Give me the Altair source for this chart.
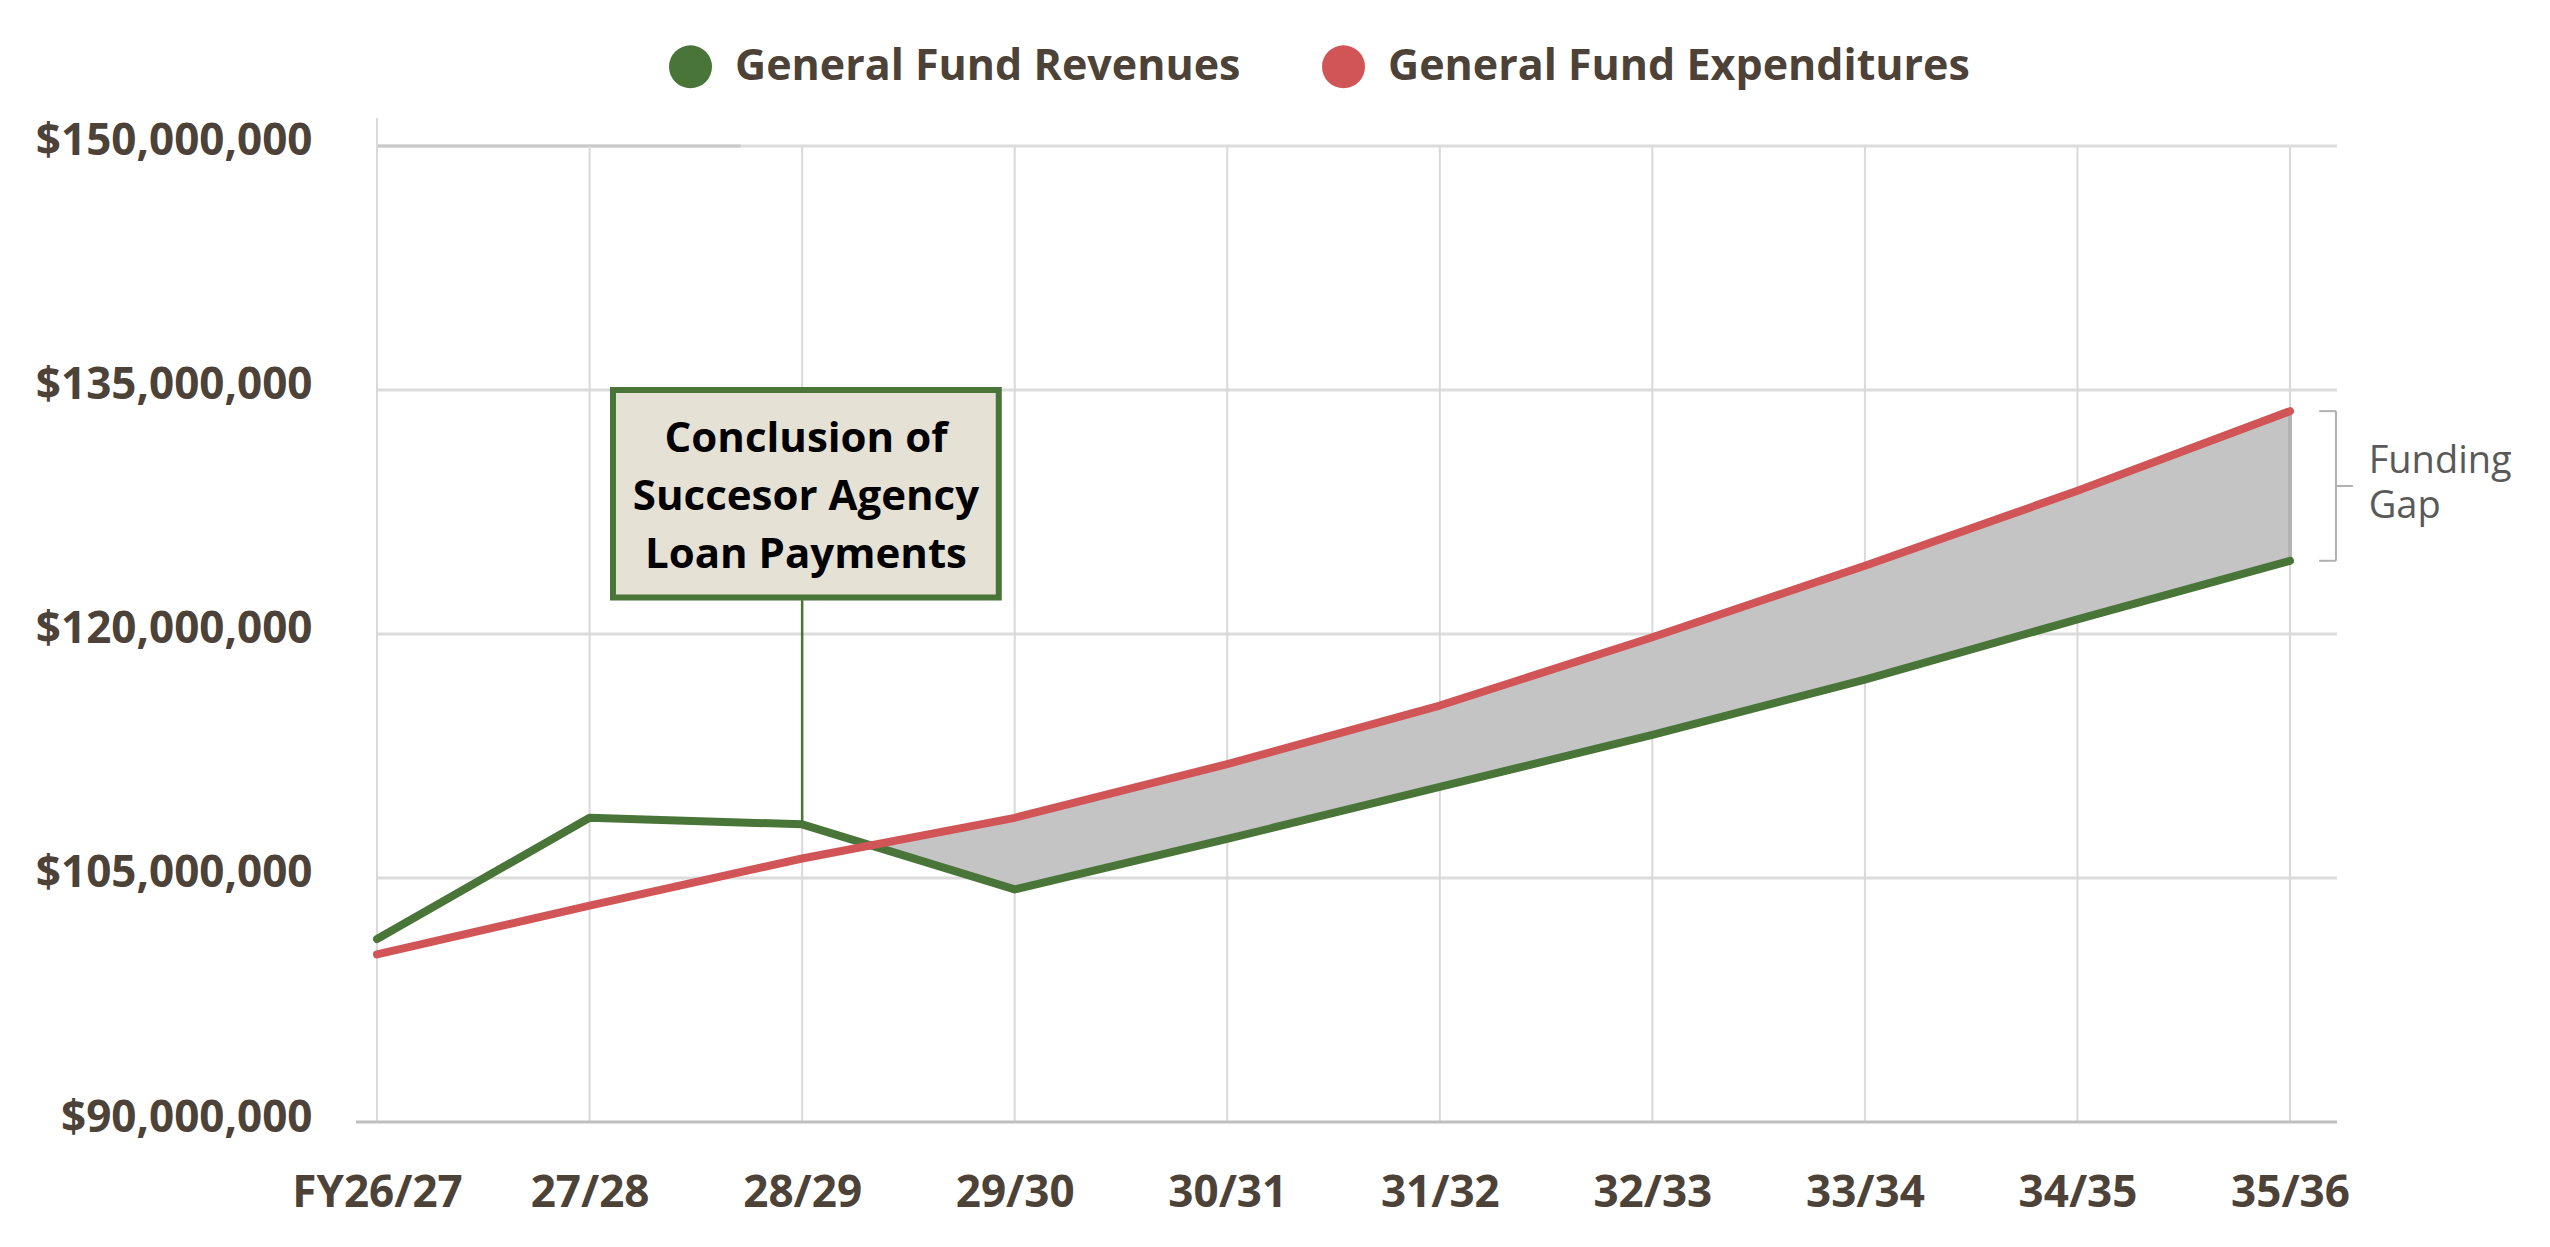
import altair as alt
import pandas as pd

years = ["FY26/27", "27/28", "28/29", "29/30", "30/31", "31/32", "32/33", "33/34", "34/35", "35/36"]
revenues = [101.25, 108.7, 108.3, 104.3, 107.4, 110.6, 113.8, 117.2, 120.9, 124.5]
expenditures = [100.3, 103.3, 106.2, 108.7, 112.0, 115.6, 119.8, 124.2, 128.8, 133.7]
series_names = ["General Fund Revenues", "General Fund Expenditures"]
y_ticks = [90, 105, 120, 135, 150]
note_lines = ["Conclusion of", "Succesor Agency", "Loan Payments"]
gap_lines = ["Funding", "Gap"]

M = 1_000_000
GREEN = "#4a7539"
RED = "#d15557"
TEXT = "#4d4237"
FONT = "Open Sans"

X_MIN, X_MAX = -0.099, 9.221
Y_MIN, Y_MAX = 90 * M, 151.72 * M
xs = alt.Scale(domain=[X_MIN, X_MAX], nice=False, zero=False)
ys = alt.Scale(domain=[Y_MIN, Y_MAX], nice=False, zero=False)

n = len(years)
idx = list(range(n))

label_expr = "[" + ",".join("'%s'" % y for y in years) + "][datum.value]"
XA = alt.Axis(values=idx, labelExpr=label_expr, grid=False, domain=False, ticks=False,
              labelFont=FONT, labelFontSize=44, labelFontWeight="bold", labelColor=TEXT,
              labelPadding=49, labelLimit=1000, title=None)
YA = alt.Axis(values=[t * M for t in y_ticks], format="$,.0f", grid=False, domain=False,
              ticks=False, labelFont=FONT, labelFontSize=44, labelFontWeight="bold",
              labelColor=TEXT, labelPadding=44, labelOffset=-4, labelLimit=1000, title=None)


def X(f):
    return alt.X(f, scale=xs, axis=XA, title=None)


def Y(f):
    return alt.Y(f, scale=ys, axis=YA, title=None)


long = pd.DataFrame(
    [{"i": i, "series": series_names[0], "v": revenues[i] * M} for i in idx]
    + [{"i": i, "series": series_names[1], "v": expenditures[i] * M} for i in idx]
)
long["line_series"] = long["series"]

# gap area (where expenditures exceed revenues), starting at the crossing
rows = []
for i in range(n - 1):
    d0 = revenues[i] - expenditures[i]
    d1 = revenues[i + 1] - expenditures[i + 1]
    if d0 > 0 and d1 <= 0:
        t = d0 / (d0 - d1)
        cv = expenditures[i] + t * (expenditures[i + 1] - expenditures[i])
        rows.append({"i": i + t, "lo": cv * M, "hi": cv * M})
for i in idx:
    if expenditures[i] > revenues[i]:
        rows.append({"i": i, "lo": revenues[i] * M, "hi": expenditures[i] * M})
gap = pd.DataFrame(rows)

# horizontal gridlines
hgrid = pd.DataFrame({"v": [t * M for t in y_ticks[1:]], "x0": 0, "x1": X_MAX})
hg = alt.Chart(hgrid).mark_rule(color="#dcdcdc", strokeWidth=3).encode(
    x=X("x0:Q"), x2="x1:Q", y=Y("v:Q"))
top_seg = alt.Chart(pd.DataFrame({"x0": [0], "x1": [1.71], "v": [y_ticks[-1] * M]})).mark_rule(
    color="#c9c9c9", strokeWidth=3).encode(x=X("x0:Q"), x2="x1:Q", y=Y("v:Q"))

vgrid = pd.DataFrame({"i": idx[1:], "y0": 90 * M, "y1": 150 * M})
vg = alt.Chart(vgrid).mark_rule(color="#d9d9d9", strokeWidth=2).encode(
    x=X("i:Q"), y=Y("y0:Q"), y2="y1:Q")

left_line = alt.Chart(pd.DataFrame({"i": [0], "y0": [Y_MIN], "y1": [Y_MAX]})).mark_rule(
    color="#d9d9d9", strokeWidth=2).encode(x=X("i:Q"), y=Y("y0:Q"), y2="y1:Q")

bottom_line = alt.Chart(pd.DataFrame({"x0": [X_MIN], "x1": [X_MAX], "v": [Y_MIN]})).mark_rule(
    color="#bfbfbf", strokeWidth=3).encode(x=X("x0:Q"), x2="x1:Q", y=Y("v:Q"))

area = alt.Chart(gap).mark_area(color="#c4c4c4", opacity=1).encode(
    x=X("i:Q"), y=Y("lo:Q"), y2="hi:Q")

edge = alt.Chart(pd.DataFrame({"i": [n - 1], "lo": [revenues[-1] * M], "hi": [expenditures[-1] * M]})).mark_rule(
    color="#b3b3b3", strokeWidth=4).encode(x=X("i:Q"), y=Y("lo:Q"), y2="hi:Q")

# annotation box
NOTE_I = 2
box_df = pd.DataFrame({"x0": [1.11], "x1": [2.925], "y0": [122.25 * M], "y1": [135.0 * M]})
box = alt.Chart(box_df).mark_rect(fill="#e6e1d5", stroke=GREEN, strokeWidth=6).encode(
    x=X("x0:Q"), x2="x1:Q", y=Y("y0:Q"), y2="y1:Q")
conn = alt.Chart(pd.DataFrame({"i": [NOTE_I], "y0": [122.08 * M], "y1": [revenues[NOTE_I] * M]})).mark_rule(
    color=GREEN, strokeWidth=2.5).encode(x=X("i:Q"), y=Y("y0:Q"), y2="y1:Q")
note_df = pd.DataFrame({"t": note_lines, "x": 2.018, "v": [131.18 * M, 127.62 * M, 124.05 * M]})
note = alt.Chart(note_df).mark_text(font=FONT, fontSize=42, fontWeight="bold", color="#000000",
                                    align="center", baseline="alphabetic").encode(
    x=X("x:Q"), y=Y("v:Q"), text="t:N")

# legend carrier: small filled dots hidden under the lines
legend_pts = alt.Chart(long).mark_circle(size=20, opacity=1).encode(
    x=X("i:Q"), y=Y("v:Q"),
    color=alt.Color("series:N", scale=alt.Scale(domain=series_names, range=[GREEN, RED]),
                    legend=alt.Legend(orient="none", legendX=313, legendY=-73, direction="horizontal",
                                      title=None, symbolType="circle", symbolSize=1849,
                                      symbolOpacity=1, symbolStrokeWidth=0,
                                      labelFont=FONT, labelFontSize=43, labelFontWeight="bold",
                                      labelColor=TEXT, labelOffset=23, columnPadding=81,
                                      labelLimit=2000, padding=0)),
)

# lines
lines = alt.Chart(long).mark_line(strokeWidth=8, strokeCap="round", strokeJoin="round").encode(
    x=X("i:Q"), y=Y("v:Q"),
    stroke=alt.Stroke("line_series:N", scale=alt.Scale(domain=series_names, range=[GREEN, RED]), legend=None),
    detail="line_series:N",
)

# funding gap bracket
BX = 9.216
br_v = alt.Chart(pd.DataFrame({"x": [BX], "y0": [revenues[-1] * M], "y1": [expenditures[-1] * M]})).mark_rule(
    color="#b0b0b0", strokeWidth=2).encode(x=X("x:Q"), y=Y("y0:Q"), y2="y1:Q")
mid = (revenues[-1] + expenditures[-1]) / 2 * M
br_h = alt.Chart(pd.DataFrame({
    "x0": [9.137, 9.137, BX], "x1": [BX, BX, 9.296],
    "v": [revenues[-1] * M, expenditures[-1] * M, mid]})).mark_rule(
    color="#b0b0b0", strokeWidth=2).encode(x=X("x0:Q"), x2="x1:Q", y=Y("v:Q"))
gap_txt = alt.Chart(pd.DataFrame({"x": [9.37], "v": [129.89 * M]})).mark_text(
    font=FONT, fontSize=38, color="#595959", align="left", baseline="alphabetic",
    lineHeight=45).encode(x=X("x:Q"), y=Y("v:Q"), text=alt.value(gap_lines))

chart = alt.layer(
    hg, top_seg, vg, left_line, bottom_line, area, edge, conn, legend_pts, lines, box, note,
    br_v, br_h, gap_txt
).properties(
    width=1981, height=1004,
    autosize=alt.AutoSizeParams(type="none"),
    padding={"left": 348, "top": 110, "right": 205, "bottom": 117},
    background="white",
).configure_view(stroke=None)

chart.save("out.html", embed_options={"renderer": "svg", "actions": False})
